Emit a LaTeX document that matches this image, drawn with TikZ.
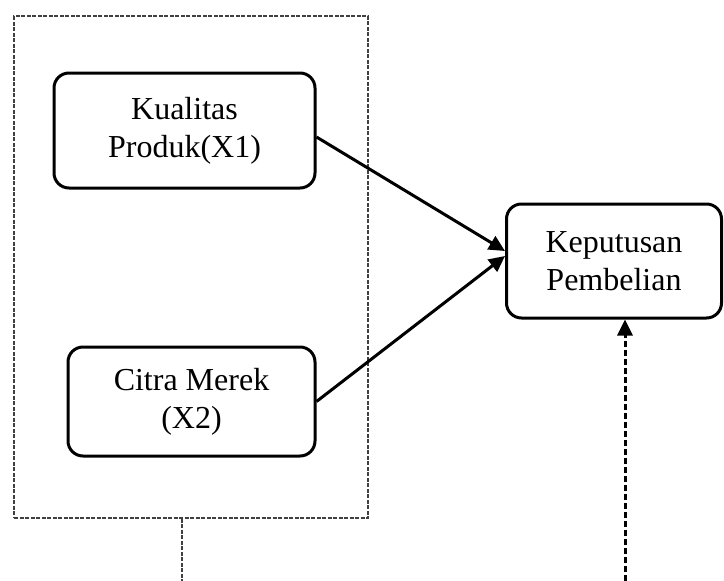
\documentclass[tikz,border=0pt]{standalone}
\usepackage{fontspec}
\setmainfont{Liberation Serif}
\usetikzlibrary{arrows.meta}
\tikzset{
  var/.style={draw,line width=3pt,rounded corners=15pt,align=center,inner sep=0pt,font=\fontsize{32}{38}\selectfont},
  grpbox/.style={draw=black!75,line width=1.2pt,dash pattern=on 4pt off 1.5pt},
  arr/.style={line width=3pt,-{Triangle[length=16pt,width=15pt]}},
  darr/.style={arr,dash pattern=on 6pt off 3pt}
}
\begin{document}
\begin{tikzpicture}[x=1pt,y=-1pt]
		\useasboundingbox (0,0) rectangle (724,581);
		\node[grpbox,minimum width=354pt,minimum height=502pt] (grp) at (191,267) {};
		\node[var,minimum width=261pt,minimum height=115pt] (kp) at (184.5,130.5) {Kualitas\\Produk(X1)};
		\node[var,minimum width=247pt,minimum height=109pt] (cm) at (191.5,401.5) {Citra Merek\\(X2)};
		\node[var,minimum width=215pt,minimum height=114pt] (kpb) at (614,261) {Keputusan\\Pembelian};
		\coordinate (bl) at (182,581);
		\coordinate (br) at (625,581);
		\draw[grpbox] (bl |- grp.south) -- (bl);
		\draw[arr] ([yshift=-6.5pt]kp.east) -- ([yshift=10pt]kpb.west);
		\draw[arr] (cm.east) -- ([yshift=5pt]kpb.west);
		\draw[darr] (br) -- (br |- kpb.south);
\end{tikzpicture}
\end{document}
